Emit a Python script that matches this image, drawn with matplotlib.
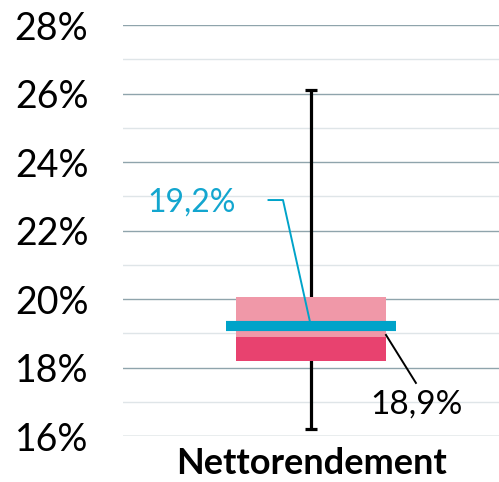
import numpy as np
import matplotlib.pyplot as plt

# Box-plot values (%)
category = "Nettorendement"
whisker_low = 16.2
q1 = 18.2
median = 18.9
q3 = 20.05
whisker_high = 26.1
mean = 19.2
major_ticks = [16, 18, 20, 22, 24, 26, 28]
minor_ticks = [17, 19, 21, 23, 25, 27]

PINK_LIGHT = "#f098a8"
PINK_DARK = "#e8426f"
CYAN = "#00a3c9"

plt.rcParams["font.family"] = ["Lato", "DejaVu Sans"]

fig = plt.figure(figsize=(4.99, 4.82), dpi=100)
ax = fig.add_axes([0.2465, 0.0954, 0.7535, 0.8527])

x0 = 0.5
ax.vlines(x0, whisker_low, whisker_high, color="black", lw=2.3, zorder=3)
ax.hlines([whisker_low, whisker_high], x0 - 0.015, x0 + 0.015, color="black", lw=2.3, zorder=3)

ax.bar(x0, q3 - median, bottom=median, width=0.4, color=PINK_LIGHT, zorder=4)
ax.bar(x0, median - q1, bottom=q1, width=0.4, color=PINK_DARK, zorder=4)
ax.hlines(mean, x0 - 0.226, x0 + 0.226, color=CYAN, lw=7.3, zorder=5)

# leader for mean
ax.plot([0.387, 0.4255, x0], [22.89, 22.89, mean], color=CYAN, lw=1.4, zorder=6)
ax.text(0.30, 22.83, "19,2%", color="#13a6cf", fontsize=23, ha="right", va="center")

# leader for median
ax.plot([0.6995, 0.779], [18.95, 17.55], color="black", lw=1.4, zorder=6)
ax.text(0.7815, 16.93, "18,9%", color="black", fontsize=24, ha="center", va="center")

ax.set_xlim(0, 1)
ax.set_ylim(16, 28)
ax.set_yticks(major_ticks)
ax.set_yticklabels([f"{t}%" for t in major_ticks], fontsize=27)
ax.set_yticks(minor_ticks, minor=True)
ax.tick_params(axis="y", which="both", length=0, pad=25)
ax.set_xticks([x0])
ax.set_xticklabels([category], fontsize=26, fontweight="bold")
ax.tick_params(axis="x", length=0, pad=8)
ax.grid(axis="y", which="major", color="#8fa4ac", lw=1.0, zorder=0)
ax.grid(axis="y", which="minor", color="#dfe5e8", lw=1.0, zorder=0)
ax.set_axisbelow(True)
for s in ax.spines.values():
    s.set_visible(False)

fig.savefig("out.png", dpi=100)
